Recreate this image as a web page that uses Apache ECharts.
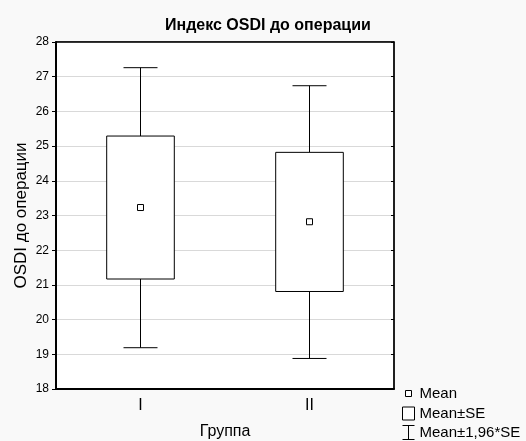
<!DOCTYPE html>
<html>
<head>
<meta charset="utf-8">
<script src="https://cdn.jsdelivr.net/npm/echarts@6/dist/echarts.min.js"></script>
<style>
  html, body { margin: 0; padding: 0; background: #f9f9f9; }
  #main { width: 526px; height: 441px; }
</style>
</head>
<body>
<div id="main"></div>
<script>
// группы и значения (читаются с картинки)
const categories = ['I', 'II'];
const means = [23.23, 22.82];
const seLow = [21.17, 20.81];
const seHigh = [25.29, 24.82];
const ciLow = [19.19, 18.88];
const ciHigh = [27.26, 26.74];
const yTicks = { min: 18, max: 28, interval: 1 };

const FONT = '"Liberation Sans", Arial, sans-serif';

const chart = echarts.init(document.getElementById('main'));

const boxData = categories.map((c, i) => [i, seLow[i], seHigh[i]]);
const whiskerData = categories.map((c, i) => [i, ciLow[i], seLow[i], seHigh[i], ciHigh[i]]);
const meanData = categories.map((c, i) => [i, means[i]]);

const option = {
  backgroundColor: '#f9f9f9',
  animation: false,
  title: {
    text: 'Индекс OSDI до операции',
    left: 165,
    top: 18,
    padding: 0,
    textStyle: { fontFamily: FONT, fontSize: 16, fontWeight: 'bold', color: '#000' }
  },
  legend: [
    {
      data: ['Mean'],
      left: 405, top: 386, padding: 0,
      itemWidth: 6, itemHeight: 6,
      icon: 'rect',
      itemStyle: { color: '#fff', borderColor: '#000', borderWidth: 1 },
      textStyle: { fontFamily: FONT, fontSize: 15, color: '#000', padding: [0, 0, 0, 3] }
    },
    {
      data: ['Mean±SE'],
      left: 402, top: 406, padding: 0,
      itemWidth: 12, itemHeight: 13,
      icon: 'rect',
      itemStyle: { color: '#fff', borderColor: '#000', borderWidth: 1 },
      textStyle: { fontFamily: FONT, fontSize: 15, color: '#000' }
    },
    {
      data: ['Mean±1,96*SE'],
      left: 402, top: 425, padding: 0,
      itemWidth: 12, itemHeight: 14,
      icon: 'path://M0,0H12M6,0V14M0,14H12',
      itemStyle: { color: 'rgba(0,0,0,0)', borderColor: '#000', borderWidth: 1 },
      textStyle: { fontFamily: FONT, fontSize: 15, color: '#000' }
    }
  ],
  grid: {
    left: 56, right: 132, top: 42, bottom: 52,
    outerBoundsMode: 'none',
    containLabel: false,
    show: true, backgroundColor: '#fff', borderColor: '#000', borderWidth: 1
  },
  xAxis: [
    {
      type: 'category',
      data: categories,
      name: 'Группа',
      nameLocation: 'middle',
      nameGap: 35,
      nameMoveOverlap: false,
      nameTextStyle: { fontFamily: FONT, fontSize: 16, color: '#000' },
      axisLine: { lineStyle: { color: '#000', width: 2 } },
      axisTick: { alignWithLabel: true, inside: true, length: 4, lineStyle: { color: '#000' } },
      axisLabel: { fontFamily: FONT, fontSize: 16, color: '#000', margin: 9 },
      splitLine: { show: false }
    },
    {
      type: 'category',
      data: categories,
      position: 'top',
      axisLine: { lineStyle: { color: '#000', width: 1.5 } },
      axisTick: { alignWithLabel: true, inside: true, length: 4, lineStyle: { color: '#000' } },
      axisLabel: { show: false },
      splitLine: { show: false }
    }
  ],
  yAxis: [
    {
      type: 'value',
      min: yTicks.min, max: yTicks.max, interval: yTicks.interval,
      name: 'OSDI до операции',
      nameLocation: 'middle',
      nameGap: 26,
      nameMoveOverlap: false,
      nameTextStyle: { fontFamily: FONT, fontSize: 17, color: '#000' },
      axisLine: { show: true, lineStyle: { color: '#000', width: 2 } },
      axisTick: { show: true, length: 4, lineStyle: { color: '#000' } },
      axisLabel: { fontFamily: FONT, fontSize: 12, color: '#000', margin: 7 },
      splitLine: { show: true, lineStyle: { color: '#d9d9d9', width: 1 } }
    },
    {
      type: 'value',
      min: yTicks.min, max: yTicks.max, interval: yTicks.interval,
      position: 'right',
      axisLine: { show: true, lineStyle: { color: '#000', width: 1.5 } },
      axisTick: { show: true, inside: true, length: 3, lineStyle: { color: '#000' } },
      axisLabel: { show: false },
      splitLine: { show: false }
    }
  ],
  series: [
    {
      name: 'Mean±1,96*SE',
      type: 'custom',
      data: whiskerData,
      z: 2,
      renderItem: function (params, api) {
        const i = api.value(0);
        const top = api.coord([i, api.value(4)]);
        const boxTop = api.coord([i, api.value(3)]);
        const boxBot = api.coord([i, api.value(2)]);
        const bot = api.coord([i, api.value(1)]);
        const half = 17;
        const st = { stroke: '#000', lineWidth: 1 };
        return {
          type: 'group',
          children: [
            { type: 'line', shape: { x1: top[0], y1: top[1], x2: boxTop[0], y2: boxTop[1] }, style: st },
            { type: 'line', shape: { x1: boxBot[0], y1: boxBot[1], x2: bot[0], y2: bot[1] }, style: st },
            { type: 'line', shape: { x1: top[0] - half, y1: top[1], x2: top[0] + half, y2: top[1] }, style: st },
            { type: 'line', shape: { x1: bot[0] - half, y1: bot[1], x2: bot[0] + half, y2: bot[1] }, style: st }
          ]
        };
      }
    },
    {
      name: 'Mean±SE',
      type: 'custom',
      data: boxData,
      z: 3,
      renderItem: function (params, api) {
        const i = api.value(0);
        const hi = api.coord([i, api.value(2)]);
        const lo = api.coord([i, api.value(1)]);
        const w = api.size([1, 0])[0] * 0.4;
        return {
          type: 'rect',
          shape: { x: hi[0] - w / 2, y: hi[1], width: w, height: lo[1] - hi[1] },
          style: { fill: '#fff', stroke: '#000', lineWidth: 1 }
        };
      }
    },
    {
      name: 'Mean',
      type: 'scatter',
      data: meanData,
      z: 4,
      symbol: 'rect',
      symbolSize: 6,
      itemStyle: { color: '#fff', borderColor: '#000', borderWidth: 1, opacity: 1 }
    }
  ]
};

chart.setOption(option);
</script>
</body>
</html>
